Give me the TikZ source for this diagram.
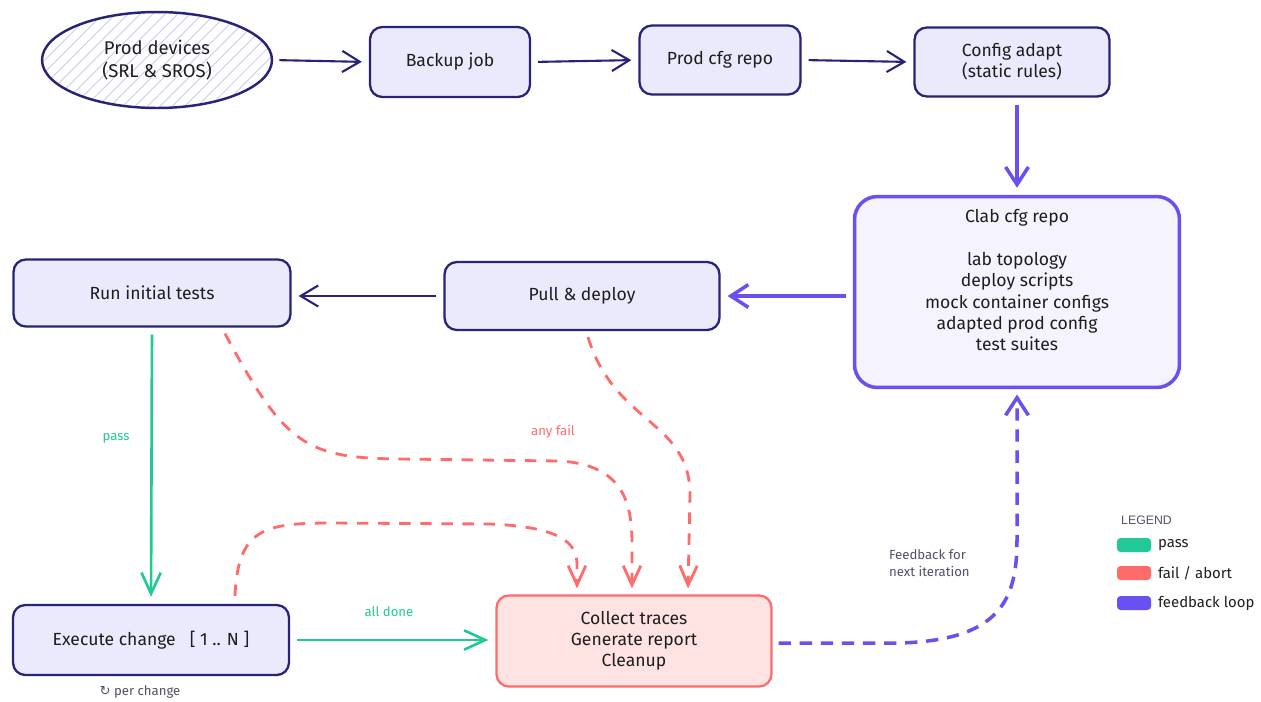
\documentclass[tikz,border=0pt]{standalone}
\usepackage{fontspec}
\setmainfont{Fira Sans}
\newfontfamily\symfont{DejaVu Sans}
\newfontfamily\legfont{Liberation Sans}
\usetikzlibrary{arrows.meta,calc,patterns.meta,shapes.geometric}

\definecolor{navy}{RGB}{40,35,120}
\definecolor{boxfill}{RGB}{235,233,252}
\definecolor{clabline}{RGB}{105,80,240}
\definecolor{clabfill}{RGB}{245,244,254}
\definecolor{passgreen}{RGB}{32,201,151}
\definecolor{failred}{RGB}{255,107,107}
\definecolor{failfill}{RGB}{255,227,227}
\definecolor{hatch}{RGB}{205,200,240}
\definecolor{notegrey}{RGB}{80,80,105}
\definecolor{inktext}{RGB}{30,30,30}

\begin{document}
\begin{tikzpicture}[x=0.02cm,y=-0.02cm,
  step box/.style={draw=navy, line width=1.3pt, fill=boxfill, rounded corners=7pt,
    text=inktext, font=\fontsize{10}{12}\selectfont, align=center, inner sep=0pt},
  navy arrow/.style={draw=navy, line width=1.2pt, -{Straight Barb[length=10pt,width=12pt]},
    shorten <=4pt, shorten >=4pt},
  purple arrow/.style={draw=clabline, line width=2pt, -{Straight Barb[length=10pt,width=13pt]},
    shorten <=4pt, shorten >=4pt},
  pass arrow/.style={draw=passgreen, line width=1.5pt, -{Straight Barb[length=12pt,width=11pt]},
    shorten <=4pt, shorten >=4pt},
  fail arrow/.style={draw=failred, line width=1.6pt, dash pattern=on 6.5pt off 5.5pt,
    -{Straight Barb[length=11pt,width=10pt]}},
  note/.style={font=\fontsize{7.5}{10}\selectfont, inner sep=1pt},
  swatch/.style={rounded corners=2pt, minimum width=0.68cm, minimum height=0.28cm, inner sep=0pt}]
\useasboundingbox (0,0) rectangle (1261,701);

% top row
\node[ellipse, draw=navy, line width=1.4pt, minimum width=4.6cm, minimum height=1.92cm,
  pattern={Lines[angle=45,distance=5pt,line width=0.5pt]}, pattern color=hatch,
  text=inktext, font=\fontsize{10.5}{13}\selectfont, align=center] (prod) at (157,60)
  {Prod devices\\(SRL \& SROS)};
\node[step box, minimum width=3.2cm, minimum height=1.4cm] (backup) at (450,62) {Backup job};
\node[step box, minimum width=3.22cm, minimum height=1.38cm] (prodcfg) at (720,60) {Prod cfg repo};
\node[step box, minimum width=3.9cm, minimum height=1.38cm] (adapt) at (1012,62) {Config adapt\\(static rules)};

% clab repo
\node[step box, draw=clabline, line width=2pt, fill=clabfill, rounded corners=13pt,
  minimum width=6.5cm, minimum height=3.82cm, font=\fontsize{10}{12.2}\selectfont] (clab) at (1017,292)
  {Clab cfg repo\\[12.2pt]lab topology\\deploy scripts\\mock container configs\\adapted prod config\\test suites\\[1.4pt]\mbox{}};

% middle row
\node[step box, minimum width=5.5cm, minimum height=1.36cm] (pull) at (582,296) {Pull \& deploy};
\node[step box, minimum width=5.54cm, minimum height=1.34cm] (run) at (152,293) {Run initial tests};

% bottom row
\node[step box, minimum width=5.52cm, minimum height=1.4cm] (exec) at (151,640) {Execute change \ \ [\ 1 .. N\ ]};
\node[step box, draw=failred, fill=failfill, minimum width=5.5cm, minimum height=1.82cm] (collect) at (634,641)
  {Collect traces\\Generate report\\Cleanup};

% main flow
\draw[navy arrow] (prod.east) -- (backup.west);
\draw[navy arrow] (backup.east) -- (prodcfg.west);
\draw[navy arrow] (prodcfg.east) -- (adapt.west);
\draw[purple arrow] (adapt.south -| clab.north) -- (clab.north);
\draw[purple arrow] (clab.west |- pull.east) -- (pull.east);
\draw[navy arrow] (pull.west) -- (run.east |- pull.west);
\draw[pass arrow] (run.south) -- (exec.north);
\draw[pass arrow] (exec.east) -- (collect.west |- exec.east);

% fail paths
\coordinate (runfail) at ($(run.south)+(73,6)$);
\coordinate (pullfail) at ($(pull.south)+(6,6)$);
\coordinate (execfail) at ($(exec.north)+(84,-8)$);
\coordinate (failL) at ($(collect.north)+(-57,-6)$);
\coordinate (failM) at ($(collect.north)+(-2,-6)$);
\coordinate (failR) at ($(collect.north)+(54,-6)$);
\draw[fail arrow] (runfail) .. controls (285,445) and (305,458) .. (400,459)
  -- (560,461) .. controls (625,465) and (632,505) .. (632,545) -- (failM);
\draw[fail arrow] (pullfail) .. controls (615,425) and (690,420) .. (690,495) -- (failR);
\draw[fail arrow] (execfail) .. controls (238,530) and (262,523) .. (330,523)
  -- (490,524) .. controls (565,527) and (577,545) .. (577,565) -- (failL);

% feedback
\draw[clabline, line width=2pt, dash pattern=on 7pt off 5pt, -{Straight Barb[length=10pt,width=13pt]}, shorten >=3pt]
  ($(collect.east)+(6,2)$) -- (900,643) .. controls (1000,640) and (1017,600) .. (1017,540) -- (clab.south);

% labels
\node[note, text=passgreen] (passlbl) at (116,438) {pass};
\node[note, text=passgreen] (donelbl) at (389,612) {all done};
\node[note, text=failred] (faillbl) at (553,432) {any fail};
\node[note, text=notegrey, align=left, anchor=west] (fblbl) at (887,563) {Feedback for\\next iteration};
\node[note, text=notegrey] (perlbl) at (140,692) {{\symfont ↻} per change};

% legend
\node[font=\legfont\fontsize{7}{9}\selectfont, text=notegrey, anchor=west] (legend) at (1115,520) {LEGEND};
\node[swatch, fill=passgreen] (swpass) at (1134,545) {};
\node[swatch, fill=failred] (swfail) at (1134,573) {};
\node[swatch, fill=clabline] (swloop) at (1134,603) {};
\node[note, text=inktext, anchor=west, font=\fontsize{8.5}{10}\selectfont] (lgpass) at (1156,545) {pass};
\node[note, text=inktext, anchor=west, font=\fontsize{8.5}{10}\selectfont] (lgfail) at (1156,573) {fail / abort};
\node[note, text=inktext, anchor=west, font=\fontsize{8.5}{10}\selectfont] (lgloop) at (1156,603) {feedback loop};
\end{tikzpicture}
\end{document}
